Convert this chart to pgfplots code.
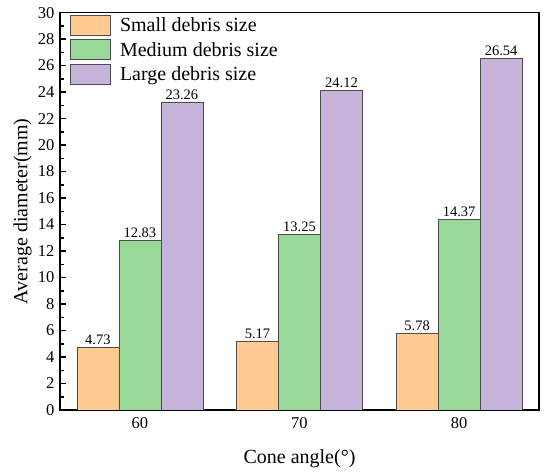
\documentclass[border=0pt]{standalone}
\usepackage{pgfplots}
\pgfplotsset{compat=1.18}
\usepackage{fontspec}
\setmainfont{Liberation Serif}
\definecolor{cs}{HTML}{FFCB90}
\definecolor{cm}{HTML}{9AD89A}
\definecolor{cl}{HTML}{C5B3D9}
\begin{document}
\begin{tikzpicture}
\useasboundingbox (-60pt,-64pt) rectangle (490pt,410pt);
\begin{axis}[
  at={(0pt,0pt)}, anchor=south west,
  scale only axis, width=479pt, height=397.4pt,
  ybar=0pt, bar width=42pt,
  xmin=55, xmax=85, ymin=0, ymax=30,
  xtick={60,70,80}, ytick={0,2,...,30}, minor y tick num=1,
  ytick pos=left, tick align=inside,
  x tick style={draw=none},
  major tick length=6pt, minor tick length=4pt,
  tick style={line width=1.5pt, black},
  axis line style={line width=1.6pt},
  /pgf/number format/assume math mode=true,
  ticklabel style={font=\fontsize{16.5}{18}\selectfont},
  yticklabel style={xshift=-2pt},
  xticklabel style={yshift=-4pt},
  xlabel={Cone angle(°)}, ylabel={Average diameter(mm)},
  label style={font=\fontsize{20}{22}\selectfont},
  xlabel style={at={(axis description cs:0.5,-0.1334)}, anchor=base},
  ylabel style={at={(axis description cs:-0.0783,0.5)}, anchor=center},
  nodes near coords,
  nodes near coords style={font=\fontsize{14.5}{16}\selectfont, /pgf/number format/fixed, /pgf/number format/fixed zerofill, /pgf/number format/precision=2, /pgf/number format/assume math mode=true, yshift=-1pt},
  legend style={at={(axis description cs:0.0209,0.994)}, anchor=north west, draw=none, fill=none, font=\fontsize{20}{22}\selectfont, row sep=3.5pt, column sep=7pt, inner sep=0pt, nodes={inner sep=2pt}},
  legend cell align=left,
  legend image code/.code={\draw[#1, draw=black!70, line width=0.8pt] (0pt,-10pt) rectangle (40pt,10pt);},
]
\addplot[fill=cs, draw=black!70] coordinates {(60,4.73) (70,5.17) (80,5.78)};
\addplot[fill=cm, draw=black!70] coordinates {(60,12.83) (70,13.25) (80,14.37)};
\addplot[fill=cl, draw=black!70] coordinates {(60,23.26) (70,24.12) (80,26.54)};
\legend{Small debris size, Medium debris size, Large debris size}
\end{axis}
\end{tikzpicture}
\end{document}
